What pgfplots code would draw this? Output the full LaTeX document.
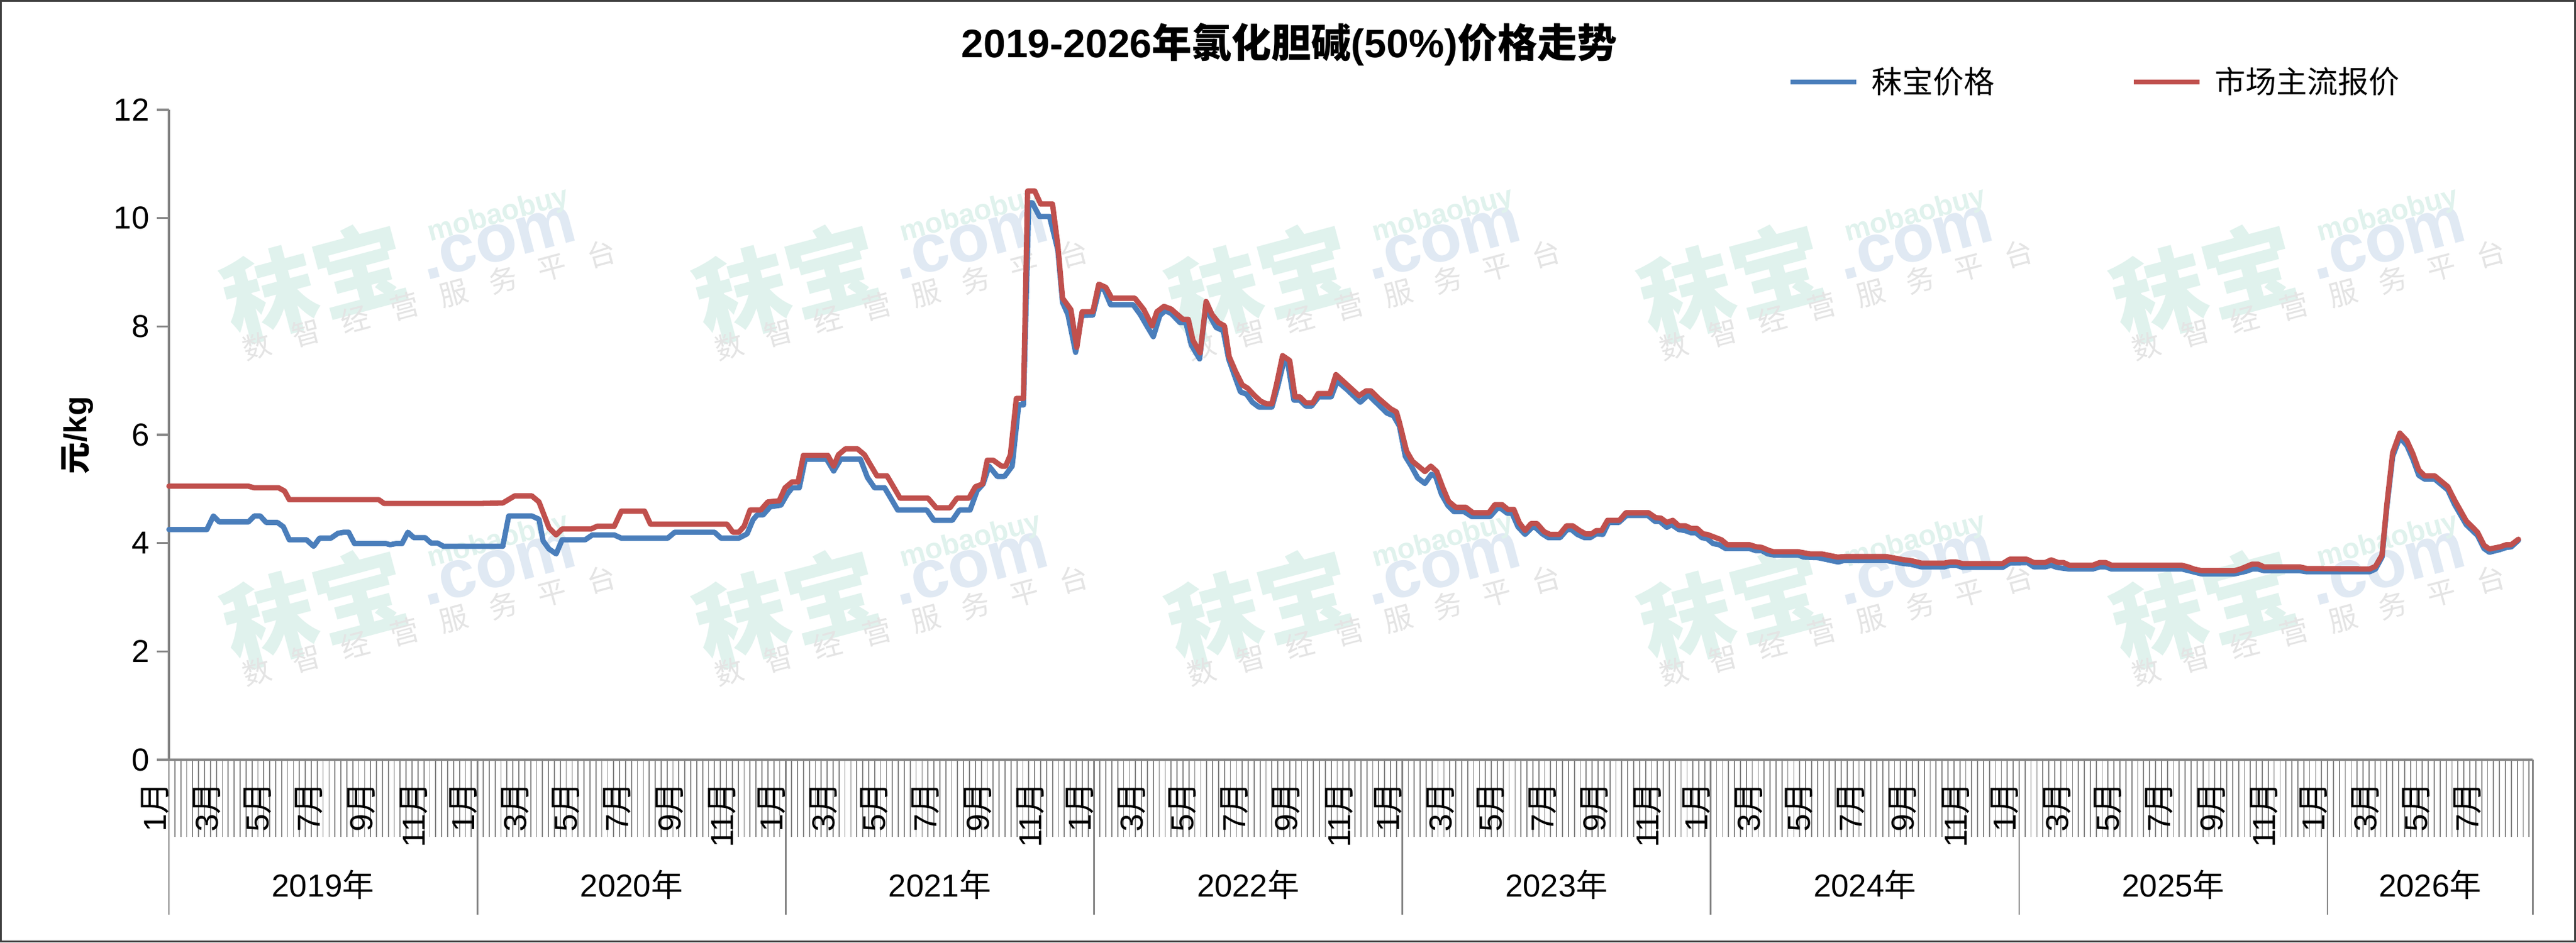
\documentclass[border=0pt]{standalone}
\usepackage{fontspec}
\setmainfont{Liberation Sans}
\newfontfamily\cjk{Noto Sans CJK SC}
\usepackage{pgfplots}
\pgfplotsset{compat=1.18}
\definecolor{sblue}{RGB}{74,126,187}
\definecolor{sred}{RGB}{192,80,77}
\definecolor{axgray}{RGB}{134,134,134}
\definecolor{framegray}{RGB}{64,64,64}
\definecolor{wmgreen}{RGB}{224,242,237}
\definecolor{wmblue}{RGB}{224,233,243}
\definecolor{wmgray}{RGB}{228,228,228}
\newcommand\C[1]{{\cjk #1}}
\newcommand\wm[2]{%
  \begin{scope}[shift={(#1cm,#2cm)}, rotate=15, transform shape]
    \node[text=wmgreen, inner sep=0pt, font=\cjk\bfseries\fontsize{44pt}{48pt}\selectfont] at (0,0) {秣宝};
    \node[text=wmblue, inner sep=0pt, font=\bfseries\fontsize{32pt}{36pt}\selectfont] at (3.10,-0.17) {.com};
    \node[text=wmgreen, inner sep=0pt, font=\bfseries\fontsize{13.5pt}{16pt}\selectfont] at (3.22,0.27) {mobaobuy};
    \node[text=wmgray, inner sep=0pt, font=\cjk\fontsize{13.5pt}{16pt}\selectfont] at (1.75,-0.78) {数\hspace{0.37cm}智\hspace{0.37cm}经\hspace{0.37cm}营\hspace{0.37cm}服\hspace{0.37cm}务\hspace{0.37cm}平\hspace{0.37cm}台};
  \end{scope}}
\begin{document}
\begin{tikzpicture}
\useasboundingbox (0,0) rectangle (42.70,15.63);
\fill[white] (0,0) rectangle (42.70,15.63);
% watermarks
\foreach \k in {0,1,2,3,4} {
  \wm{\fpeval{5.22+7.83*\k}}{10.96}
  \wm{\fpeval{5.22+7.83*\k}}{5.56}
}
\begin{axis}[
  at={(2.80cm,3.03cm)}, anchor=south west,
  scale only axis, width=39.18cm, height=10.78cm,
  xmin=0, xmax=398.6, ymin=0, ymax=12,
  clip=false,
  axis x line*=bottom, axis y line*=left,
  axis line style={axgray, line width=0.9pt},
  xtick=\empty,
  ytick={0,2,4,6,8,10,12},
  tick align=outside,
  major tick length=0.2cm,
  y tick style={axgray, line width=0.9pt},
  /pgf/number format/assume math mode=true,
  yticklabel style={font=\fontsize{15pt}{18pt}\selectfont},
  ylabel={\bfseries\C{元}/kg},
  ylabel style={at={(axis description cs:-0.0388,0.499)}, anchor=center, font=\fontsize{15pt}{18pt}\selectfont},
  legend style={at={(axis description cs:0.6848,1.0427)}, anchor=west, draw=none, fill=none, inner sep=0pt,
    font=\fontsize{14.5pt}{17pt}\selectfont,
    /tikz/every even column/.append style={column sep=2.19cm}},
  legend columns=2,
  legend image code/.code={\draw[#1, line cap=butt] (0cm,0cm) -- (1.09cm,0cm); \path (1.23cm,0cm);},
]
\addplot[sblue, line width=2.5pt, line join=round, line cap=round] coordinates {
(0,4.25) (6.4,4.25) (7.5,4.50) (8.5,4.39) (13.4,4.39) (14.4,4.50) (15.4,4.50) (16.4,4.38) (18.3,4.38) (19.3,4.30) (20.3,4.06) (23.2,4.06) (24.4,3.94) (25.4,4.09) (27.3,4.09) (28.5,4.18) (29.5,4.20) (30.3,4.20) (31.3,3.99) (36.6,3.99) (37.3,3.97) (38.3,3.99) (39.3,3.99) (40.3,4.20) (41.3,4.10) (43.2,4.10) (44.2,4.00) (45.3,4.00) (46.3,3.94) (56.3,3.94) (57.3,4.50) (61.2,4.50) (62.4,4.44) (63.1,4.04) (64.1,3.89) (65.3,3.80) (66.3,4.06) (70.2,4.06) (71.4,4.15) (75.1,4.15) (76.3,4.09) (84.1,4.09) (85.3,4.20) (92.0,4.20) (93.1,4.09) (96.1,4.09) (97.5,4.17) (98.5,4.43) (99.2,4.52) (100.2,4.52) (101.4,4.67) (103.2,4.70) (104.3,4.91) (105.1,5.02) (106.3,5.02) (107.3,5.55) (110.9,5.55) (112.1,5.33) (113.3,5.55) (116.6,5.55) (117.8,5.21) (119.0,5.02) (120.7,5.02) (122.9,4.61) (127.8,4.61) (129.0,4.42) (132.1,4.42) (133.3,4.61) (135.1,4.61) (136.3,4.97) (137.3,5.09) (138.3,5.42) (139.7,5.23) (140.9,5.23) (142.2,5.42) (143.3,6.55) (144.1,6.55) (145.0,10.28) (145.6,10.28) (146.8,10.03) (148.5,10.03) (149.9,9.41) (150.7,8.44) (151.6,8.22) (152.9,7.52) (153.9,8.20) (155.8,8.21) (157.0,8.74) (157.8,8.66) (158.8,8.40) (162.6,8.40) (163.8,8.22) (164.8,8.03) (166.0,7.81) (167.1,8.20) (168.0,8.29) (169.0,8.24) (170.5,8.07) (171.5,8.07) (172.4,7.66) (173.8,7.40) (174.9,8.40) (175.6,8.18) (176.6,7.98) (177.8,7.92) (178.7,7.40) (179.7,7.09) (180.7,6.79) (181.7,6.75) (182.7,6.60) (183.8,6.51) (186.0,6.51) (187.0,6.90) (188.0,7.35) (188.7,7.31) (189.7,6.64) (190.7,6.64) (191.7,6.53) (192.7,6.53) (193.9,6.70) (196.0,6.70) (197.0,6.99) (198.7,6.83) (200.9,6.60) (202.1,6.72) (202.4,6.72) (203.8,6.57) (205.4,6.40) (206.5,6.35) (207.5,6.16) (208.5,5.60) (209.5,5.42) (210.6,5.20) (211.8,5.10) (212.9,5.27) (213.6,5.23) (214.6,4.90) (215.7,4.69) (216.7,4.58) (218.4,4.58) (219.7,4.49) (222.8,4.49) (224.0,4.64) (224.6,4.64) (225.7,4.55) (226.5,4.55) (227.5,4.30) (228.7,4.16) (229.9,4.29) (230.4,4.29) (231.6,4.17) (232.6,4.10) (234.6,4.10) (235.8,4.25) (236.5,4.25) (237.5,4.16) (238.7,4.10) (239.7,4.10) (240.7,4.17) (241.8,4.16) (242.8,4.38) (244.5,4.38) (245.8,4.51) (249.4,4.51) (250.6,4.40) (251.4,4.40) (252.6,4.29) (253.4,4.34) (254.6,4.25) (255.7,4.23) (256.7,4.19) (257.5,4.19) (258.5,4.10) (259.4,4.08) (260.4,3.99) (261.4,3.97) (262.5,3.90) (266.5,3.90) (267.6,3.86) (268.6,3.86) (269.6,3.80) (270.6,3.78) (274.7,3.78) (275.7,3.74) (278.1,3.73) (281.5,3.65) (282.5,3.68) (289.6,3.68) (292.6,3.62) (293.7,3.61) (295.5,3.56) (299.4,3.56) (300.4,3.59) (301.4,3.59) (302.5,3.55) (309.2,3.55) (310.4,3.63) (313.4,3.64) (314.5,3.56) (316.4,3.56) (317.4,3.59) (318.4,3.55) (320.5,3.52) (324.4,3.52) (325.6,3.56) (326.6,3.56) (327.6,3.52) (339.5,3.52) (342.8,3.43) (348.3,3.43) (350.3,3.48) (351.3,3.52) (352.3,3.52) (353.3,3.49) (359.3,3.49) (360.5,3.47) (371.1,3.47) (372.1,3.52) (373.2,3.74) (374.0,4.65) (375.0,5.60) (376.2,5.95) (377.4,5.80) (378.4,5.55) (379.4,5.25) (380.4,5.18) (382.1,5.18) (384.3,4.98) (385.4,4.72) (387.4,4.34) (389.3,4.14) (390.4,3.90) (391.3,3.83) (393.1,3.88) (394.2,3.92) (395.0,3.93) (396.2,4.05)
};
\addlegendentry{\C{秣宝价格}}
\addplot[sred, line width=2.5pt, line join=round, line cap=round] coordinates {
(0,5.05) (13.4,5.05) (14.4,5.02) (18.5,5.02) (19.5,4.96) (20.3,4.80) (35.4,4.80) (36.3,4.73) (51.9,4.73) (56.3,4.74) (58.3,4.87) (61.2,4.87) (62.4,4.76) (64.1,4.28) (65.3,4.15) (66.3,4.26) (71.2,4.26) (72.2,4.31) (75.1,4.31) (76.3,4.59) (80.2,4.59) (81.2,4.35) (94.1,4.35) (95.1,4.20) (96.1,4.20) (97.0,4.31) (98.0,4.61) (99.8,4.61) (101.0,4.76) (102.9,4.78) (103.9,5.02) (105.1,5.13) (106.1,5.13) (107.0,5.62) (111.1,5.62) (112.1,5.42) (112.9,5.63) (114.1,5.74) (116.1,5.74) (117.3,5.63) (119.4,5.24) (121.1,5.24) (123.3,4.83) (128.0,4.83) (129.4,4.65) (131.7,4.65) (132.9,4.83) (134.9,4.83) (136.0,5.04) (137.2,5.09) (138.0,5.53) (139.0,5.53) (140.4,5.42) (141.1,5.42) (141.9,5.63) (142.9,6.67) (144.1,6.67) (144.8,10.50) (146.0,10.50) (147.0,10.26) (149.0,10.26) (149.9,9.50) (150.7,8.52) (152.1,8.31) (153.1,7.61) (154.0,8.27) (155.8,8.27) (156.8,8.78) (158.0,8.72) (159.0,8.52) (162.9,8.52) (164.4,8.31) (165.8,8.01) (166.6,8.27) (167.8,8.37) (169.0,8.32) (171.0,8.13) (171.9,8.13) (172.7,7.74) (173.9,7.51) (174.9,8.46) (175.9,8.22) (177.0,8.07) (178.0,8.01) (178.8,7.44) (179.9,7.16) (181.0,6.92) (181.9,6.86) (183.1,6.72) (184.1,6.62) (185.1,6.57) (186.0,6.57) (186.8,6.94) (187.8,7.46) (189.0,7.37) (189.9,6.70) (190.7,6.70) (191.7,6.59) (192.9,6.59) (193.8,6.76) (195.8,6.76) (196.8,7.11) (198.7,6.92) (200.7,6.72) (201.9,6.81) (202.7,6.81) (204.1,6.66) (206.0,6.48) (207.0,6.42) (207.5,6.23) (208.7,5.70) (209.7,5.51) (211.8,5.32) (212.8,5.42) (213.8,5.32) (214.8,5.03) (215.8,4.77) (217.0,4.66) (218.7,4.66) (219.9,4.56) (222.6,4.56) (223.6,4.71) (224.8,4.71) (225.8,4.62) (226.8,4.62) (227.7,4.38) (228.7,4.23) (229.7,4.36) (230.7,4.36) (231.9,4.21) (232.9,4.16) (234.5,4.16) (235.7,4.32) (236.7,4.32) (237.9,4.23) (238.9,4.17) (239.9,4.17) (240.7,4.23) (241.6,4.23) (242.6,4.42) (244.6,4.42) (245.7,4.56) (249.5,4.56) (250.7,4.47) (251.6,4.46) (252.6,4.38) (253.6,4.42) (254.6,4.32) (255.7,4.32) (256.7,4.27) (257.7,4.27) (258.7,4.17) (259.4,4.16) (261.8,4.06) (262.8,3.97) (266.5,3.97) (267.7,3.93) (268.6,3.92) (269.9,3.86) (270.6,3.84) (274.7,3.84) (276.7,3.80) (278.7,3.80) (281.4,3.74) (282.5,3.75) (289.6,3.75) (292.6,3.69) (293.6,3.68) (295.5,3.63) (299.4,3.63) (300.4,3.65) (301.4,3.65) (302.5,3.62) (309.2,3.62) (310.4,3.70) (313.3,3.70) (314.5,3.64) (316.4,3.64) (317.4,3.69) (318.6,3.64) (319.5,3.64) (320.5,3.59) (324.4,3.59) (325.6,3.64) (326.6,3.64) (327.6,3.59) (339.4,3.59) (340.5,3.56) (341.5,3.52) (342.8,3.49) (348.3,3.49) (349.3,3.52) (351.3,3.61) (352.3,3.61) (353.3,3.56) (359.3,3.56) (360.5,3.53) (371.1,3.52) (372.1,3.57) (373.2,3.78) (374.0,4.70) (375.0,5.67) (376.2,6.03) (377.4,5.89) (378.4,5.65) (379.4,5.35) (380.4,5.24) (382.1,5.24) (384.3,5.04) (385.4,4.80) (387.4,4.41) (389.3,4.20) (390.4,3.96) (391.3,3.89) (393.1,3.93) (394.2,3.97) (395.0,3.97) (396.2,4.07)
};
\addlegendentry{\C{市场主流报价}}
\end{axis}
% title
\node[anchor=center, inner sep=0pt, font=\bfseries\fontsize{18.8pt}{22pt}\selectfont] at (21.37,14.89) {2019-2026\C{年氯化胆碱}(50\%)\C{价格走势}};
% weekly category ticks
\foreach \w in {0,...,398} {
  \draw[axgray, line width=0.5pt] ({2.80+\w*0.098294},3.03) -- ++(0,-1.28);
}
% year separators
\foreach \w in {0,52,104,156,208,260,312,364,398.6} {
  \draw[axgray, line width=0.8pt] ({2.80+\w*0.098294},3.03) -- ++(0,-2.57);
}
% month labels
\foreach \y in {0,52,104,156,208,260,312} {
  \foreach \o/\m in {0/1,8.8/3,17.3/5,26/7,34.8/9,43.7/11} {
    \node[rotate=90, anchor=south east, inner sep=0pt, font=\fontsize{15pt}{18pt}\selectfont] at ({2.80+(\y+\o)*0.098294},2.66) {\m\C{月}};
  }
}
\foreach \o/\m in {0/1,8.8/3,17.3/5,26/7} {
  \node[rotate=90, anchor=south east, inner sep=0pt, font=\fontsize{15pt}{18pt}\selectfont] at ({2.80+(364+\o)*0.098294},2.66) {\m\C{月}};
}
% year labels
\foreach \c/\yr in {26/2019,78/2020,130/2021,182/2022,234/2023,286/2024,338/2025,381.3/2026} {
  \node[anchor=base, inner sep=0pt, font=\fontsize{15pt}{18pt}\selectfont] at ({2.80+\c*0.098294},0.76) {\yr\C{年}};
}
% outer frame
\draw[framegray, line width=0.9pt] (0.016,0.016) rectangle (42.684,15.614);
\end{tikzpicture}
\end{document}
